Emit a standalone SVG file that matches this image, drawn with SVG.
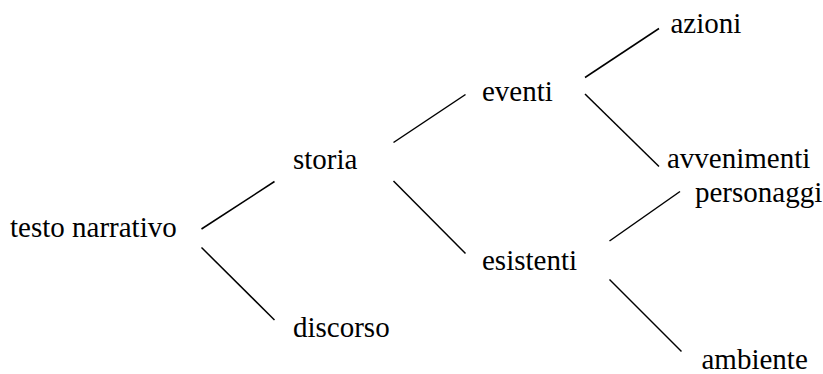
<svg xmlns="http://www.w3.org/2000/svg" width="823" height="374" viewBox="0 0 823 374">
<rect width="823" height="374" fill="#fff"/>
<text id="testo" x="10" y="237" font-family="Liberation Serif" font-size="29">testo narrativo</text>
<text id="storia" x="293" y="168.5" font-family="Liberation Serif" font-size="29">storia</text>
<text id="discorso" x="293" y="336.5" font-family="Liberation Serif" font-size="29">discorso</text>
<text id="eventi" x="482" y="101" font-family="Liberation Serif" font-size="29">eventi</text>
<text id="esistenti" x="482" y="270" font-family="Liberation Serif" font-size="29">esistenti</text>
<text id="azioni" x="670.5" y="33" font-family="Liberation Serif" font-size="29">azioni</text>
<text id="avvenimenti" x="667" y="168" font-family="Liberation Serif" font-size="29">avvenimenti</text>
<text id="personaggi" x="695" y="201.5" font-family="Liberation Serif" font-size="29">personaggi</text>
<text id="ambiente" x="701.5" y="368.5" font-family="Liberation Serif" font-size="29">ambiente</text>
<g id="connectors" stroke="#000" stroke-width="1.5" fill="none">
<path d="M201.5 229 L274.5 181.5"/>
<path d="M201.5 247.5 L274.5 320"/>
<path d="M393.5 142.5 L465.5 94.5"/>
<path d="M393.5 181 L465.5 253.5"/>
<path d="M585 77.5 L659 28.5"/>
<path d="M585 94 L659 166.5"/>
<path d="M609.5 241 L680 191.5"/>
<path d="M609.5 279.5 L681.5 351.5"/>
</g>
</svg>
